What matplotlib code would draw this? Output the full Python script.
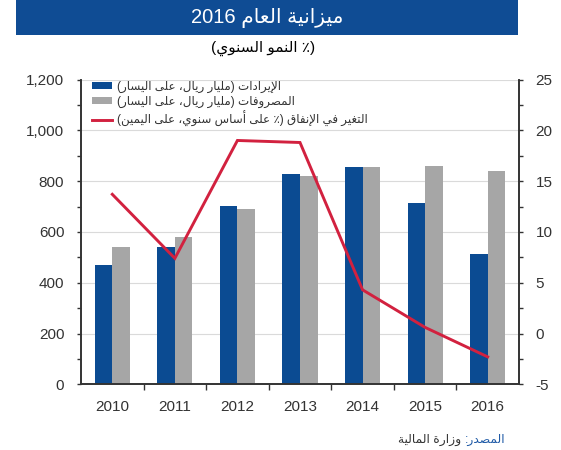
import re

import matplotlib.pyplot as plt
import matplotlib.patches as mpatches
import numpy as np
from matplotlib.ticker import FuncFormatter, MultipleLocator

plt.rcParams['font.family'] = ['Liberation Sans', 'DejaVu Sans']
plt.rcParams['axes.unicode_minus'] = False

years = ['2010', '2011', '2012', '2013', '2014', '2015', '2016']
revenues = [470, 540, 702, 829, 855, 715, 514]          # billion riyal, left axis
expenditures = [540, 580, 690, 820, 855, 860, 840]      # billion riyal, left axis
spending_growth = [13.7, 7.4, 19.0, 18.8, 4.3, 0.6, -2.3]  # % y/y, right axis

title = 'ميزانية العام 2016'
subtitle = '(٪ النمو السنوي)'
series_labels = ['الإيرادات (مليار ريال، على اليسار)',
                 'المصروفات (مليار ريال، على اليسار)',
                 'التغير في الإنفاق (٪ على أساس سنوي، على اليمين)']
source_head = 'المصدر:'
source_body = 'وزارة المالية'

BLUE = '#0B4B92'
GREY = '#A6A6A6'
RED = '#D2213F'
DARK = '#333333'

# presentation-form bases: isolated, final, initial, medial follow in order
RIGHT_JOIN = {'ا': 0xFE8D, 'أ': 0xFE83, 'إ': 0xFE87, 'ة': 0xFE93, 'د': 0xFEA9,
              'ر': 0xFEAD, 'ز': 0xFEAF, 'و': 0xFEED, 'ى': 0xFEEF,
              '\uFEFB': 0xFEFB, '\uFEF7': 0xFEF7, '\uFEF9': 0xFEF9}
DUAL_JOIN = {'ب': 0xFE8F, 'ت': 0xFE95, 'س': 0xFEB1, 'ص': 0xFEB9, 'ع': 0xFEC9,
             'غ': 0xFECD, 'ف': 0xFED1, 'ق': 0xFED5, 'ل': 0xFEDD, 'م': 0xFEE1,
             'ن': 0xFEE5, 'ه': 0xFEE9, 'ي': 0xFEF1}


def arabic(text):
    """shape arabic letters and put the string in visual (left to right) order"""
    text = text.replace('لإ', '\uFEF9').replace('لأ', '\uFEF7').replace('لا', '\uFEFB')
    out = []
    for i, ch in enumerate(text):
        prev = text[i - 1] if i > 0 else ''
        nxt = text[i + 1] if i + 1 < len(text) else ''
        joins_prev = prev in DUAL_JOIN and (ch in DUAL_JOIN or ch in RIGHT_JOIN)
        if ch in DUAL_JOIN:
            joins_next = nxt in DUAL_JOIN or nxt in RIGHT_JOIN
            form = [[0, 2], [1, 3]][joins_prev][joins_next]
            out.append(chr(DUAL_JOIN[ch] + form))
        elif ch in RIGHT_JOIN:
            out.append(chr(RIGHT_JOIN[ch] + joins_prev))
        else:
            out.append(ch)
    vis = ''.join(out)[::-1]
    vis = re.sub(r'[0-9][0-9,.]*', lambda m: m.group()[::-1], vis)
    return vis.translate(str.maketrans('()', ')('))


fig = plt.figure(figsize=(5.61, 4.5), dpi=100)
ax = fig.add_axes([0.1444, 0.146, 0.7807, 0.6773])
ax2 = ax.twinx()

x = np.arange(len(years))
w = 0.28
b1 = ax.bar(x - w / 2, revenues, w, color=BLUE, zorder=2)
b2 = ax.bar(x + w / 2, expenditures, w, color=GREY, zorder=2)
ln, = ax2.plot(x, spending_growth, color=RED, lw=2.1, solid_joinstyle='miter')

ax.set_xlim(-0.5, 6.5)
ax.set_ylim(0, 1200)
ax2.set_ylim(-5, 25)

ax.yaxis.set_major_locator(MultipleLocator(200))
ax.yaxis.set_minor_locator(MultipleLocator(100))
ax.yaxis.set_major_formatter(FuncFormatter(lambda v, p: f'{v:,.0f}'))
ax2.yaxis.set_major_locator(MultipleLocator(5))
ax2.yaxis.set_minor_locator(MultipleLocator(2.5))

ax.set_xticks(x, years)
ax.set_xticks(np.arange(0.5, 6, 1), minor=True)
ax.tick_params(axis='x', which='major', length=0, pad=11, labelsize=11, labelcolor=DARK)
ax.tick_params(axis='x', which='minor', length=4, width=1, color=DARK)
ax.tick_params(axis='y', which='both', length=3, width=1, color=DARK, pad=9,
               labelsize=11, labelcolor=DARK)
ax2.tick_params(axis='y', which='both', length=3, width=1, color=DARK, pad=9,
                labelsize=11, labelcolor=DARK)

ax.yaxis.grid(True, color='#DADADA', lw=0.8)
ax.set_axisbelow(True)

for a in (ax, ax2):
    a.spines['top'].set_visible(False)
    for s in ('left', 'right', 'bottom'):
        a.spines[s].set_color(DARK)
        a.spines[s].set_linewidth(1.2)

leg = ax2.legend([b1, b2, ln], [arabic(s) for s in series_labels],
                 loc='upper left', bbox_to_anchor=(92 / 561, (450 - 81) / 450),
                 bbox_transform=fig.transFigure, frameon=False, fontsize=8.6,
                 handlelength=1.7, handleheight=0.5, handletextpad=0.4,
                 labelspacing=0.22, borderpad=0, borderaxespad=0)
for t in leg.get_texts():
    t.set_color(DARK)

# title banner
fig.add_artist(mpatches.Rectangle((16 / 561, 1 - 35 / 450), 502 / 561, 35 / 450,
                                  transform=fig.transFigure, color='#0F4C94', lw=0))
fig.text(0.477, 1 - 18 / 450, arabic(title), color='white', fontsize=14.5,
         ha='center', va='center')
fig.text(0.469, 1 - 48 / 450, arabic(subtitle), color='black', fontsize=11,
         ha='center', va='center')

head = fig.text(505 / 561, 1 - 440 / 450, arabic(source_head), color='#1F5AA6',
                fontsize=8.8, ha='right', va='center')
ax.annotate(arabic(source_body) + ' ', xy=(0, 0.5), xycoords=head,
            ha='right', va='center', fontsize=8.8, color=DARK)

fig.savefig('out.png', dpi=100)
